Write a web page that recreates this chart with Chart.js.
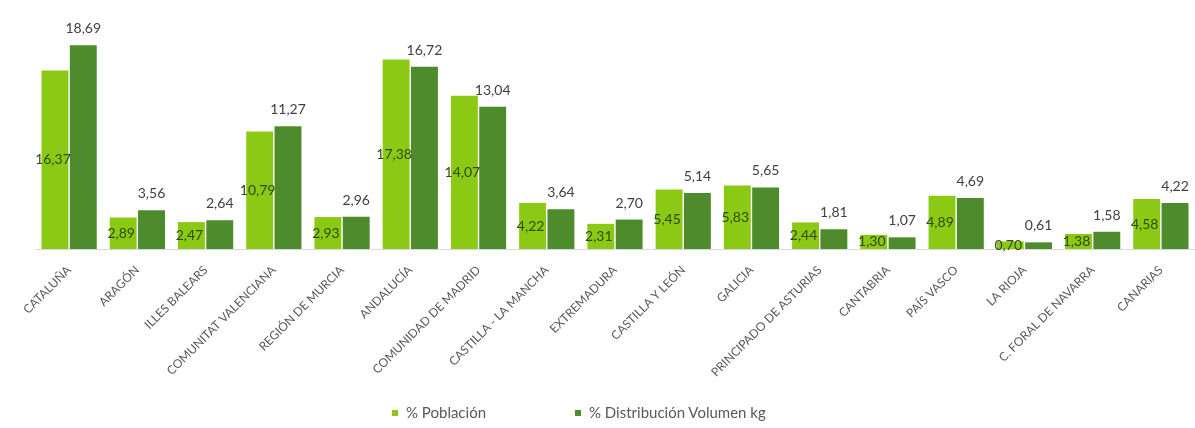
<!DOCTYPE html>
<html>
<head>
<meta charset="utf-8">
<script src="https://cdn.jsdelivr.net/npm/chart.js@4/dist/chart.umd.min.js"></script>
<style>
  html, body { margin: 0; padding: 0; background: #fff; }
  #wrap { position: relative; width: 1195px; height: 428px; }
  #legend { position: absolute; top: 402px; left: 0; width: 1195px; height: 20px;
    font-family: Lato, "Liberation Sans", sans-serif; font-size: 15px; color: #595959; }
  .item { position: absolute; top: 0; line-height: 20px; white-space: nowrap; }
  .sw { display: inline-block; width: 6px; height: 6px; margin-right: 8px; vertical-align: middle; position: relative; top: -1px; }
</style>
</head>
<body>
<div id="wrap">
  <canvas id="c" width="1195" height="428"></canvas>
  <div id="legend"></div>
</div>
<script>
const categories = ["CATALUÑA", "ARAGÓN", "ILLES BALEARS", "COMUNITAT VALENCIANA", "REGIÓN DE MURCIA",
  "ANDALUCÍA", "COMUNIDAD DE MADRID", "CASTILLA - LA MANCHA", "EXTREMADURA", "CASTILLA Y LEÓN",
  "GALICIA", "PRINCIPADO DE ASTURIAS", "CANTABRIA", "PAÍS VASCO", "LA RIOJA", "C. FORAL DE NAVARRA", "CANARIAS"];
const poblacion = [16.37, 2.89, 2.47, 10.79, 2.93, 17.38, 14.07, 4.22, 2.31, 5.45, 5.83, 2.44, 1.30, 4.89, 0.70, 1.38, 4.58];
const distribucion = [18.69, 3.56, 2.64, 11.27, 2.96, 16.72, 13.04, 3.64, 2.70, 5.14, 5.65, 1.81, 1.07, 4.69, 0.61, 1.58, 4.22];
const seriesNames = ["% Población", "% Distribución Volumen kg"];
const seriesColors = ["#8cc914", "#4d8b2d"];
const legendX = [392, 575];

const fmt = v => v.toFixed(2).replace('.', ',');

const labelPlugin = {
  id: 'valueLabels',
  afterDatasetsDraw(chart) {
    const ctx = chart.ctx;
    ctx.save();
    ctx.font = '14px Lato, "Liberation Sans", sans-serif';
    ctx.textAlign = 'center';
    chart.data.datasets.forEach((ds, di) => {
      const meta = chart.getDatasetMeta(di);
      meta.data.forEach((bar, i) => {
        const v = ds.data[i];
        if (di === 0) {
          ctx.fillStyle = '#2f4a12';
          ctx.textBaseline = 'middle';
          ctx.fillText(fmt(v), bar.x - 2, (bar.y + bar.base) / 2);
        } else {
          ctx.fillStyle = '#404040';
          ctx.textBaseline = 'alphabetic';
          ctx.fillText(fmt(v), bar.x, bar.y - 12);
        }
      });
    });
    ctx.restore();
  }
};

const chart = new Chart(document.getElementById('c'), {
  type: 'bar',
  data: {
    labels: categories,
    datasets: [
      { label: seriesNames[0], data: poblacion, backgroundColor: seriesColors[0] },
      { label: seriesNames[1], data: distribucion, backgroundColor: seriesColors[1] }
    ]
  },
  options: {
    responsive: false,
    animation: false,
    layout: { padding: { left: 35, right: 0, top: 31, bottom: 0 } },
    categoryPercentage: 0.83,
    barPercentage: 0.95,
    plugins: { legend: { display: false }, tooltip: { enabled: false } },
    scales: {
      x: {
        grid: { display: false },
        border: { color: '#d9d9d9' },
        ticks: {
          minRotation: 45, maxRotation: 45, autoSkip: false, padding: 6,
          color: '#595959',
          font: { family: 'Lato, "Liberation Sans", sans-serif', size: 12 }
        },
        afterFit(scale) { scale.height = 179; }
      },
      y: { display: false, min: 0, max: 20 }
    }
  },
  plugins: [labelPlugin]
});

const leg = document.getElementById('legend');
chart.data.datasets.forEach((ds, i) => {
  const d = document.createElement('span');
  d.className = 'item';
  d.style.left = legendX[i] + 'px';
  const sw = document.createElement('span');
  sw.className = 'sw';
  sw.style.background = ds.backgroundColor;
  d.appendChild(sw);
  d.appendChild(document.createTextNode(ds.label));
  leg.appendChild(d);
});
</script>
</body>
</html>
